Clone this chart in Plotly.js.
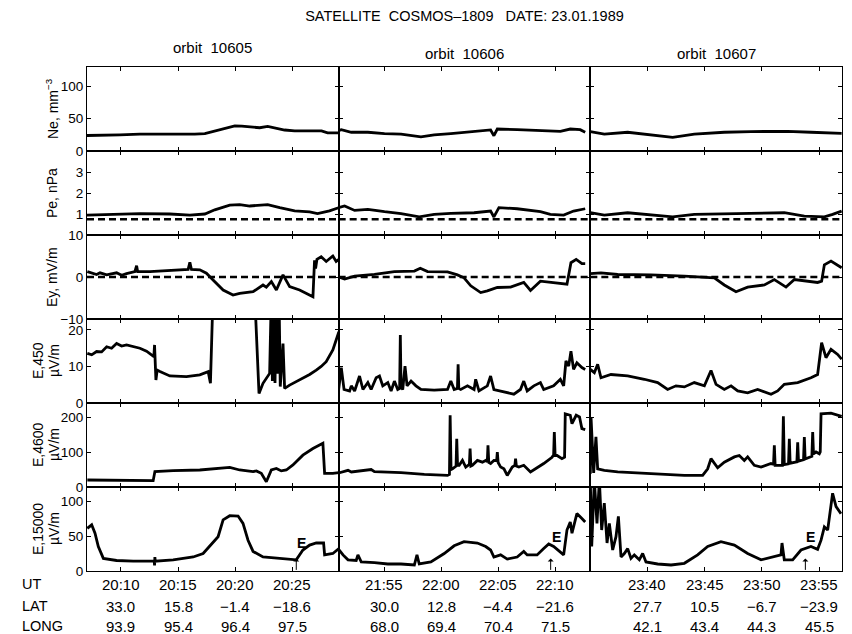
<!DOCTYPE html>
<html><head><meta charset="utf-8">
<script src="https://cdn.plot.ly/plotly-3.0.1.min.js"></script>
<style>html,body{margin:0;padding:0;background:#fff}</style>
</head><body><div id="chart" style="width:852px;height:634px"></div>
<script>
// ---- column (orbit) definitions ----
const orbits = ['orbit\u00a0\u00a010605', 'orbit\u00a0\u00a010606', 'orbit\u00a0\u00a010607'];
const colRanges = [[1207.03, 1229.05], [1310.98, 1333.06], [1415.02, 1437.0]];
const tickTimes = [[1210, 1215, 1220, 1225], [1315, 1320, 1325, 1330], [1420, 1425, 1430, 1435]];
const utLabels = [['20:10', '20:15', '20:20', '20:25'], ['21:55', '22:00', '22:05', '22:10'], ['23:40', '23:45', '23:50', '23:55']];
const latLabels = [['33.0', '15.8', '\u22121.4', '\u221218.6'], ['30.0', '12.8', '\u22124.4', '\u221221.6'], ['27.7', '10.5', '\u22126.7', '\u221223.9']];
const longLabels = [['93.9', '95.4', '96.4', '97.5'], ['68.0', '69.4', '70.4', '71.5'], ['42.1', '43.4', '44.3', '45.5']];

// ---- row definitions ----
const rowLabels = [['Ne, mm<sup>\u22123</sup>'], ['Pe, nPa'], ['Ey, mV/m'], ['E,450', '\u00b5V/m'], ['E,4600', '\u00b5V/m'], ['E,15000', '\u00b5V/m']];
const rowRanges = [[0, 130], [0, 4], [-10, 10], [0, 23], [0, 240], [0, 120]];
const rowTicks = [[0, 50, 100], [1, 2, 3], [-10, 0, 10], [0, 10, 20], [0, 100, 200], [0, 50, 100]];
const peRef = 0.75;
const eyRef = 0;

// ---- orbit 10605 ----
const neA_t = [1207.03,1208.17,1209.91,1211.66,1213.41,1215.15,1216.46,1217.34,1218.21,1219.08,1219.96,1220.57,1221.27,1222.14,1222.84,1223.54,1224.32,1225.20,1226.07,1226.94,1227.55,1228.08,1228.78,1229.04];
const neA_v = [24,24,25,26,26,25.5,26,27,31,35,39,38.5,37,36,38,35,32.5,31,31,30.5,31,28,28,28];
const peA_t = [1207.03,1209.04,1211.66,1214.28,1216.03,1217.34,1218.21,1219.52,1220.39,1221.27,1222.84,1223.89,1225.20,1226.51,1227.20,1228.25,1229.04];
const peA_v = [0.95,0.98,1.02,1.0,0.95,1.0,1.2,1.42,1.45,1.38,1.45,1.3,1.15,1.1,1.02,1.15,1.3];
const eyA_t = [1207.06,1207.87,1208.17,1208.75,1209.62,1210.06,1210.49,1211.22,1211.37,1211.46,1212.53,1214.57,1215.88,1216.03,1216.17,1216.90,1217.48,1218.06,1218.94,1219.81,1220.39,1221.56,1222.43,1222.72,1223.16,1223.60,1224.18,1224.76,1225.63,1226.80,1226.94,1227.03,1227.15,1227.52,1227.96,1228.54,1228.83,1229.07];
const eyA_v = [1.3,0.6,1.0,0.5,1.0,0.4,0.8,1.3,2.7,1.3,1.3,1.6,1.8,3.5,1.8,1.7,0.9,-0.7,-3.1,-4.3,-3.9,-3.5,-1.9,-2.4,-1.1,-3.1,0.5,-2.3,-3.1,-4.7,4.0,2.0,4.2,4.8,3.7,5.0,3.7,4.2];
const e450A_t = [1207.06,1207.44,1207.87,1208.31,1208.75,1209.18,1209.62,1210.06,1210.49,1211.08,1211.66,1212.24,1212.53,1212.88,1212.94,1213.00,1213.06,1213.17,1213.41,1214.28,1215.73,1216.90,1217.63,1217.83,1218.06,1221.70,1222.08,1222.43,1223.01,1223.16,1223.25,1223.36,1223.48,1223.60,1223.71,1223.83,1223.94,1224.18,1224.32,1224.76,1225.63,1226.51,1227.09,1227.52,1227.96,1228.54,1229.07];
const e450A_v = [13.6,13.2,14.1,14.0,15.4,15.0,16.3,15.6,15.9,15.4,15.0,14.2,13.6,12.7,15.9,12.0,6.3,9.0,8.6,7.4,7.2,7.7,8.6,5.4,30,30,2.6,5.4,8.1,30,6.0,30,5.5,30,8.0,30,4.5,16.3,4.0,4.9,6.3,7.8,9.0,10.0,11.3,14.5,19.5];
const e4600A_t = [1207.06,1212.82,1212.97,1214.57,1216.90,1218.35,1219.52,1220.39,1221.56,1221.85,1222.28,1222.72,1223.16,1223.60,1224.03,1224.47,1225.05,1225.92,1226.80,1227.67,1227.82,1228.54,1229.07];
const e4600A_v = [20,18,44,47,48.6,53,56,48.6,44,46,39,15,48.6,53,46,48.6,63,91,110,125,39,39,41];
const e15A_t = [1207.06,1207.44,1207.73,1208.02,1208.46,1209.62,1211.08,1212.91,1212.94,1212.97,1213.00,1214.57,1216.32,1217.19,1218.06,1218.50,1218.94,1219.52,1220.25,1220.68,1221.12,1221.56,1222.43,1223.60,1224.76,1225.34,1225.92,1226.51,1227.09,1227.73,1227.82,1228.54,1229.07];
const e15A_v = [61,66,54,35,18,15,14,14,8,20,14,16,20,25,42,49,73,79,78.5,68,44,28,20,18,16,16,30,37,40,40,23,25,32];

// ---- orbit 10606 ----
const neB_t = [1310.98,1311.21,1312.09,1313.54,1315.00,1316.45,1318.20,1319.36,1320.82,1322.28,1324.31,1324.60,1324.90,1326.64,1328.68,1330.43,1331.30,1332.17,1332.61];
const neB_v = [31.6,33,29,29,27,26,22,25,27,29,32.6,23.7,34,33,31.6,30.5,34,33,29];
const peB_t = [1310.98,1311.50,1312.38,1313.54,1315.00,1316.45,1318.05,1319.36,1320.82,1322.86,1324.31,1324.60,1325.04,1326.64,1328.68,1329.55,1330.72,1331.59,1332.61];
const peB_v = [1.3,1.38,1.17,1.22,1.11,1.02,0.86,0.98,1.03,1.06,1.14,0.86,1.3,1.25,1.11,0.98,0.95,1.14,1.25];
const eyB_t = [1310.98,1311.50,1312.38,1314.12,1315.87,1317.62,1318.14,1318.78,1320.53,1321.40,1321.98,1322.57,1323.44,1324.02,1324.90,1326.06,1327.22,1327.81,1328.68,1329.84,1331.01,1331.36,1331.82,1332.32,1332.61];
const eyB_v = [0,-0.5,0.2,0.6,1.3,1.4,2.1,1.3,1.2,0.5,-0.2,-2.1,-3.7,-3.3,-2.5,-2.4,-1.3,-3.2,-1.0,-1.3,-1.7,3.4,4.2,3.2,3.2];
const e450B_t = [1310.98,1311.21,1311.45,1311.94,1312.09,1312.38,1312.81,1313.11,1313.54,1313.83,1314.27,1314.56,1314.85,1315.29,1315.58,1315.87,1316.16,1316.33,1316.39,1316.45,1316.60,1316.80,1316.98,1317.33,1317.76,1318.20,1319.36,1320.53,1320.82,1321.11,1321.40,1321.46,1321.52,1321.69,1322.28,1322.86,1323.00,1323.29,1324.02,1324.31,1324.60,1325.19,1325.77,1326.35,1326.93,1327.22,1327.52,1328.10,1328.68,1328.97,1329.84,1330.43,1330.72,1330.92,1331.16,1331.36,1331.59,1331.88,1332.32,1332.61];
const e450B_v = [3.7,9.7,3.7,3.3,4.7,3.3,7.4,3.7,5.6,3.7,6.9,7.4,4.7,5.6,3.3,6.0,3.7,4.0,18.6,4.5,3.7,10.1,4.7,6.0,4.7,3.7,3.5,3.7,6.0,3.7,4.0,10.6,4.0,3.7,4.7,3.7,6.5,3.3,4.7,7.4,3.7,3.3,2.8,2.4,3.7,6.0,3.3,4.7,5.6,3.7,4.7,6.5,4.7,11.5,10.1,14.2,9.2,11.0,9.7,9.2];
const e4600B_t = [1310.98,1311.80,1312.09,1313.83,1314.12,1316.45,1318.49,1320.53,1320.70,1320.76,1320.84,1320.97,1321.28,1321.34,1321.41,1321.55,1321.84,1322.13,1322.45,1322.51,1322.58,1322.71,1323.15,1323.59,1323.88,1324.02,1324.08,1324.15,1324.31,1324.60,1324.84,1324.90,1324.97,1325.19,1325.48,1325.77,1326.21,1326.44,1326.50,1326.57,1326.79,1327.22,1327.81,1328.39,1328.97,1329.70,1329.84,1329.90,1329.97,1330.14,1330.57,1330.80,1330.86,1331.30,1331.45,1331.82,1332.11,1332.32,1332.61];
const e4600B_v = [40,47.6,43,50,44,41,36,33,36,205,50,52,60,138,62,62,76,57,65,110,60,62,76,71,76,72,119,70,67,76,75,100,70,57,52,33,57,62,81,60,57,62,43,55,67,85,92,157,90,90,81,85,209,205,181,205,200,167,164];
const e15B_t = [1310.98,1311.36,1311.80,1312.52,1312.67,1312.96,1314.12,1315.29,1316.45,1317.62,1317.85,1318.05,1319.07,1320.24,1321.11,1321.98,1323.15,1323.88,1324.31,1324.60,1325.19,1325.77,1326.64,1327.22,1327.52,1328.39,1328.97,1329.41,1329.84,1330.72,1331.01,1331.30,1331.45,1331.88,1332.32,1332.61];
const e15B_v = [31,23,16,15,23,13,12,10,10,8.6,23,10,13,25,36,42,40,35,30,20,23,17,20,28,23,23,32,38.6,35,23,58.5,70,54,82,75,70];

// ---- orbit 10607 ----
const neC_t = [1415.02,1416.24,1418.28,1420.32,1422.21,1424.10,1426.72,1429.05,1432.25,1434.29,1436.97];
const neC_v = [30,26,29,25,21,26,29,30,30.5,29,27.4];
const peC_t = [1415.02,1416.24,1418.28,1420.32,1422.21,1424.10,1427.60,1431.96,1433.71,1435.46,1436.18,1436.97];
const peC_v = [1.06,0.95,1.06,0.95,0.86,0.98,1.03,1.06,0.9,0.86,0.98,1.14];
const eyC_t = [1415.02,1415.95,1417.41,1420.32,1423.23,1425.85,1426.72,1427.74,1428.76,1430.22,1431.09,1432.11,1432.84,1434.87,1435.22,1435.46,1436.04,1436.97];
const eyC_v = [0.8,1.0,0.6,0.5,0.2,-0.2,-1.9,-3.5,-2.4,-1.9,-0.6,-2.4,-0.6,-1.3,-1.0,2.9,3.8,2.2];
const e450C_t = [1415.02,1415.37,1415.66,1415.95,1416.82,1418.28,1419.74,1420.90,1421.77,1422.50,1423.23,1424.10,1424.98,1425.56,1426.00,1426.72,1427.31,1427.89,1428.76,1429.63,1430.80,1431.38,1431.96,1433.13,1434.29,1434.87,1435.22,1435.60,1436.04,1436.62,1436.97];
const e450C_v = [9.2,8.3,10.6,6.9,7.8,7.4,6.5,5.6,3.7,4.7,4.4,5.6,4.7,8.9,5.1,3.7,4.7,3.3,2.8,3.7,2.4,3.3,5.1,5.6,6.9,7.8,16.5,12.4,14.7,13.3,12.0];
const e4600C_t = [1415.02,1415.08,1415.31,1415.51,1415.66,1416.24,1417.41,1420.32,1423.23,1424.83,1425.27,1425.56,1426.14,1426.72,1427.60,1428.03,1428.47,1428.76,1429.34,1429.93,1430.80,1431.02,1431.09,1431.16,1431.80,1431.88,1431.96,1432.33,1432.40,1432.47,1433.06,1433.13,1433.20,1433.64,1433.71,1433.78,1434.37,1434.44,1434.51,1434.73,1435.02,1435.10,1435.17,1436.04,1436.97];
const e4600C_v = [38,200,40,143,52,47.6,43,38,33,33,52,81,55,71,86,90,76,86,62,57,67,65,119,62,62,202,64,66,138,68,72,128,74,78,143,80,88,157,95,100,95,100,209,211,202];
const e15C_t = [1415.02,1415.14,1415.37,1415.60,1415.81,1416.01,1416.24,1416.48,1416.68,1416.97,1417.26,1417.47,1417.70,1417.99,1418.28,1418.57,1418.86,1419.30,1419.59,1419.88,1420.90,1422.07,1423.23,1424.39,1425.27,1426.43,1427.60,1428.76,1429.93,1431.09,1431.67,1431.76,1431.96,1432.69,1433.42,1434.29,1434.87,1435.17,1435.46,1435.75,1436.18,1436.48,1436.91];
const e15C_v = [130,35,130,68,130,58.5,97,40,68,30,49,78,20,25,32,18,23,16,25,13,10,8.6,11,23,35,42,37,25,16,20,23,40,16,16,30,35,31,44,63,58.5,111,92,82];

// "E" markers (time of arrow, label position) per orbit
const eArrowT = [1225.34, 1329.58, 1433.80];
const eLabelT = [1225.81, 1330.11, 1434.23];
const eLabelV = [40, 48.6, 48.6];

// ---- assemble ----
const series = [
  [[neA_t, neA_v], [neB_t, neB_v], [neC_t, neC_v]],
  [[peA_t, peA_v], [peB_t, peB_v], [peC_t, peC_v]],
  [[eyA_t, eyA_v], [eyB_t, eyB_v], [eyC_t, eyC_v]],
  [[e450A_t, e450A_v], [e450B_t, e450B_v], [e450C_t, e450C_v]],
  [[e4600A_t, e4600A_v], [e4600B_t, e4600B_v], [e4600C_t, e4600C_v]],
  [[e15A_t, e15A_v], [e15B_t, e15B_v], [e15C_t, e15C_v]]
];
const refLevels = {1: peRef, 2: eyRef};

const FONT = 'Liberation Sans, Arial, Helvetica, sans-serif';
const PLOT_L = 87, PLOT_W = 755, PLOT_B = 571, PLOT_H = 504;
const px2x = px => (px - PLOT_L) / PLOT_W;
const py2y = py => (PLOT_B - py) / PLOT_H;

const traces = [];
const layout = {
  width: 852, height: 634,
  margin: {l: 87, r: 10, t: 67, b: 63},
  paper_bgcolor: '#fff', plot_bgcolor: '#fff',
  showlegend: false,
  font: {family: FONT, size: 14, color: '#000'},
  title: {text: 'SATELLITE\u00a0\u00a0COSMOS\u20131809\u00a0\u00a0\u00a0DATE: 23.01.1989', xref: 'paper', x: 0.5, xanchor: 'center',
          yref: 'container', y: 1 - 16 / 634, yanchor: 'middle', font: {family: FONT, size: 14.5, color: '#000'}},
  annotations: []
};

for (let r = 0; r < 6; r++) {
  for (let c = 0; c < 3; c++) {
    const p = r * 3 + c + 1;
    const xs = p === 1 ? '' : String(p);
    const xa = 'x' + xs, ya = 'y' + xs;
    const [t, v] = series[r][c];
    if (refLevels[r] !== undefined) {
      traces.push({x: colRanges[c], y: [refLevels[r], refLevels[r]], xaxis: xa, yaxis: ya, mode: 'lines',
        line: {color: '#000', width: 2.5, dash: '7px,4px'}, hoverinfo: 'skip'});
    }
    traces.push({x: t, y: v, xaxis: xa, yaxis: ya, mode: 'lines',
      line: {color: '#000', width: 2.8}, hoverinfo: 'skip'});
    layout['xaxis' + xs] = {
      domain: [c / 3, (c + 1) / 3], anchor: ya, range: colRanges[c],
      tickvals: tickTimes[c], showticklabels: false, ticks: 'inside', ticklen: 4, tickcolor: '#000',
      showline: true, linecolor: '#000', linewidth: 1, mirror: 'ticks', showgrid: false, zeroline: false, fixedrange: true
    };
    layout['yaxis' + xs] = {
      domain: [1 - (r + 1) / 6, 1 - r / 6], anchor: xa, range: rowRanges[r],
      tickvals: rowTicks[r], showticklabels: c === 0, ticks: 'inside', ticklen: 4, tickcolor: '#000',
      showline: true, linecolor: '#000', linewidth: 1, mirror: 'ticks', showgrid: false, zeroline: false,
      tickfont: {family: FONT, size: 13.5}, fixedrange: true
    };
  }
  const lines = rowLabels[r];
  const xs = lines.length === 1 ? [52] : [38, 54];
  lines.forEach((s, k) => {
    layout.annotations.push({text: s, xref: 'paper', yref: 'paper', x: px2x(xs[k]), y: 1 - (r + 0.5) / 6,
      xanchor: 'center', yanchor: 'middle', textangle: -90, showarrow: false, font: {family: FONT, size: 14}});
  });
}

// orbit titles
orbits.forEach((o, c) => {
  layout.annotations.push({text: o, xref: 'paper', yref: 'paper', x: (c + 0.5) / 3, y: c === 0 ? py2y(48) : py2y(53),
    xanchor: 'center', yanchor: 'middle', showarrow: false, font: {family: FONT, size: 15}});
});

// bottom UT / LAT / LONG rows
const rowsY = [py2y(584), py2y(606), py2y(626)];
['UT', 'LAT', 'LONG'].forEach((s, i) => {
  layout.annotations.push({text: s, xref: 'paper', yref: 'paper', x: px2x(20), y: rowsY[i],
    xanchor: 'left', yanchor: 'middle', showarrow: false, font: {family: FONT, size: 14.5}});
});
[utLabels, latLabels, longLabels].forEach((labs, i) => {
  for (let c = 0; c < 3; c++) {
    const xa = 'x' + (15 + c + 1);
    labs[c].forEach((s, k) => {
      layout.annotations.push({text: s, xref: xa, yref: 'paper', x: tickTimes[c][k], y: rowsY[i],
        xanchor: 'center', yanchor: 'middle', showarrow: false, font: {family: FONT, size: 15}});
    });
  }
});

// E markers with arrows
for (let c = 0; c < 3; c++) {
  const xa = 'x' + (15 + c + 1), ya = 'y' + (15 + c + 1);
  layout.annotations.push({text: '', xref: xa, yref: ya, x: eArrowT[c], y: 18, ax: 0, ay: 13,
    showarrow: true, arrowhead: 1, arrowsize: 1, arrowwidth: 1, arrowcolor: '#000'});
  layout.annotations.push({text: '<b>E</b>', xref: xa, yref: ya, x: eLabelT[c], y: eLabelV[c],
    xanchor: 'center', yanchor: 'middle', showarrow: false, font: {family: FONT, size: 14}});
}

Plotly.newPlot('chart', traces, layout, {staticPlot: true, displayModeBar: false});
</script></body></html>
